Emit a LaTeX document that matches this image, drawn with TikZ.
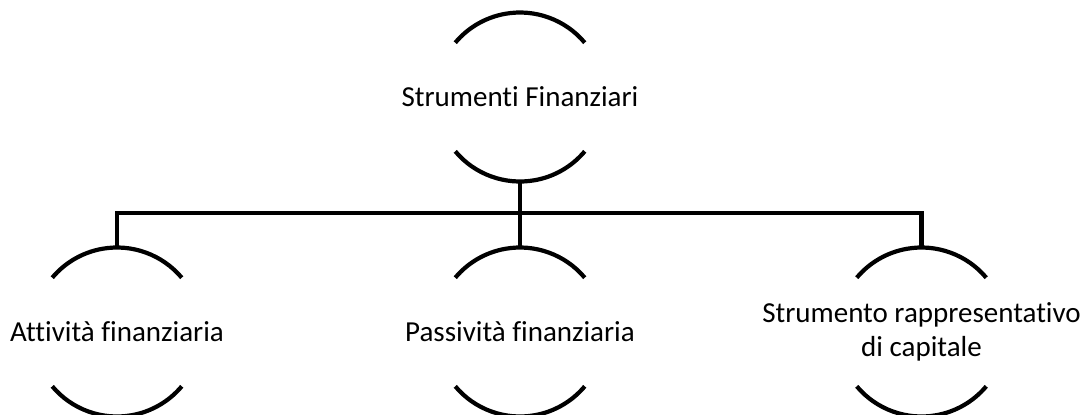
\documentclass[tikz,border=0pt]{standalone}
\usepackage{fontspec}
\setmainfont[Ligatures=NoCommon]{Carlito}
\begin{document}
\begin{tikzpicture}[x=0.5pt,y=-0.5pt,
  ring/.style={circle,minimum size=84.5pt,inner sep=0pt,outer sep=0pt},
  lbl/.style={align=center,inner sep=0pt,font=\fontsize{14.5}{17}\selectfont},
  arcline/.style={line width=2.1pt},
  conn/.style={line width=2.1pt}]
\useasboundingbox (0,0) rectangle (1090,414);
\clip (0,0) rectangle (1090,414);
\node[ring] (top) at (520,97) {};
\node[ring] (a) at (117,332) {};
\node[ring] (b) at (520,332) {};
\node[ring] (c) at (921.5,332) {};
\node[lbl] (ttop) at (top.center) {Strumenti Finanziari};
\node[lbl] (ta) at (a.center) {Attività finanziaria};
\node[lbl] (tb) at (b.center) {Passività finanziaria};
\node[lbl] (tc) at (c.center) {Strumento rappresentativo\\di capitale};
\foreach \n in {top,a,b,c}{
  \draw[arcline] (\n.40) arc[start angle=40,end angle=140,radius=42.25pt];
  \draw[arcline] (\n.220) arc[start angle=220,end angle=320,radius=42.25pt];
}
\coordinate (bar) at (520,213);
\draw[conn] (top.south) -- (top.south |- bar);
\draw[conn] (a.north) -- (a.north |- bar) -- (c.north |- bar) -- (c.north);
\draw[conn] (b.north) -- (b.north |- bar);
\end{tikzpicture}
\end{document}
